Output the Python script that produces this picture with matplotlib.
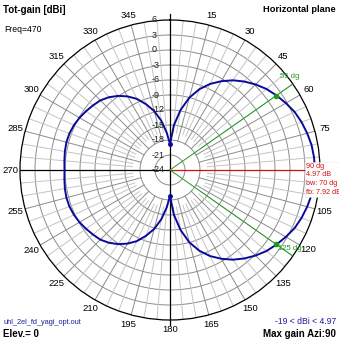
"""Horizontal-plane gain pattern of a 2-element yagi (4nec2 style)."""

import numpy as np
import matplotlib

matplotlib.use("Agg")
from matplotlib import pyplot as plt  # noqa: E402

plt.rcParams["font.family"] = ["Liberation Sans", "DejaVu Sans"]

# pattern: azimuth (deg, clockwise from north) -> gain (dBi)
azimuth_deg = list(range(0, 360, 5))
gain_dbi = [
    -18.8, -15.0, -11.8, -9.0, -6.8, -5.0, -3.5, -2.1, -0.9, 0.2,
    1.2, 2.0, 2.75, 3.5, 4.0, 4.4, 4.75, 4.92, 4.97, 4.92,
    4.75, 4.4, 4.0, 3.5, 2.75, 2.0, 1.2, 0.2, -0.9, -2.1,
    -3.5, -5.0, -6.8, -9.0, -11.8, -15.0, -18.8, -16.5, -14.0, -11.8,
    -10.0, -8.3, -7.0, -5.9, -5.0, -4.3, -3.9, -3.5, -3.1, -2.8,
    -2.6, -2.55, -2.65, -2.8, -2.9, -2.8, -2.65, -2.55, -2.6, -2.8,
    -3.1, -3.5, -3.9, -4.3, -5.0, -5.9, -7.0, -8.3, -10.0, -11.8,
    -14.0, -16.5,
]

ring_levels = [6, 3, 0, -3, -6, -9, -12, -15, -18, -21, -24]
# 90 sits under the max-gain box, 0 is drawn next to the Y marker
angle_labels = [a for a in range(15, 360, 15) if a != 90]

max_gain = 4.97
max_azi = 90
bw_edges = [55, 125]
bw_gain = 1.97
null_azi = [0, 180]
null_gain = -18.8

R_MIN, R_MAX = -24, 6
_PATTERN_COLOR = "#0a0a9a"
_RING_COLOR = "#8c8c8c"
_SPOKE_LIGHT = "#c4c4c4"
_GREEN = "#1a9a1a"
_RED = "#d01010"
_BLUE_TEXT = "#1c1c9c"

W = H = 339
fig = plt.figure(figsize=(W / 100, H / 100), dpi=100, facecolor="white")

cx, cy, rad = 170, 170, 150
ax = fig.add_axes(
    [(cx - rad) / W, (H - cy - rad) / H, 2 * rad / W, 2 * rad / H],
    projection="polar",
)
ax.set_theta_zero_location("N")
ax.set_theta_direction(-1)
ax.set_ylim(R_MIN, R_MAX)
ax.grid(False)
ax.set_xticks([])
ax.set_yticks([])
ax.spines["polar"].set_color("black")
ax.spines["polar"].set_linewidth(0.9)
ax.set_facecolor("white")

theta_full = np.linspace(0, 2 * np.pi, 361)

# rings
for lvl in ring_levels[1:-1]:
    ax.plot(theta_full, [lvl] * len(theta_full), color=_RING_COLOR, lw=0.7, zorder=1)

# spokes
for a in range(0, 360, 5):
    th = np.deg2rad(a)
    if a % 90 == 0:
        continue
    if a % 15 == 0:
        ax.plot([th, th], [-18, R_MAX], color=_RING_COLOR, lw=0.7, zorder=1)
    else:
        ax.plot([th, th], [-16.5, R_MAX], color=_SPOKE_LIGHT, lw=0.7, zorder=1)

# axes cross
ax.plot([0, 0], [R_MIN, 7.3], color="black", lw=0.9, clip_on=False, zorder=3)
ax.plot([np.pi, np.pi], [R_MIN, 7.0], color="black", lw=0.9, clip_on=False, zorder=3)
ax.plot([1.5 * np.pi] * 2, [R_MIN, R_MAX], color="black", lw=0.9, zorder=3)
ax.plot([np.deg2rad(max_azi)] * 2, [R_MIN, max_gain], color=_RED, lw=0.9, zorder=3)

# beamwidth lines
for a in bw_edges:
    ax.plot([np.deg2rad(a)] * 2, [R_MIN, R_MAX], color=_GREEN, lw=0.7, zorder=3)
ax.plot(np.deg2rad(bw_edges), [bw_gain] * 2, "o", color=_GREEN, ms=3, zorder=5)

# pattern
th_pat = np.deg2rad(azimuth_deg + [azimuth_deg[0] + 360])
ax.plot(th_pat, gain_dbi + [gain_dbi[0]], color=_PATTERN_COLOR, lw=1.4, zorder=4)
ax.plot(np.deg2rad(null_azi), [null_gain] * 2, "o", color=_PATTERN_COLOR, ms=2.5, zorder=5)

# ring labels
for lvl in ring_levels:
    ax.annotate(
        str(lvl), (0, lvl), xytext=(-18, 0), textcoords="offset pixels",
        ha="left", va="center", fontsize=6.5, color="#202020", zorder=6,
    )

# angle labels
for a in angle_labels:
    ax.text(np.deg2rad(a), 8.0, str(a), ha="center", va="center", fontsize=6.8)
ax.annotate("0", (0, 8.4), xytext=(-4, 0), textcoords="offset pixels",
            ha="right", va="center", fontsize=6.8)
ax.annotate("Y", (0, 8.4), xytext=(4, 0), textcoords="offset pixels",
            ha="left", va="center", fontsize=7, fontweight="bold")

# beamwidth markers
ax.annotate("55 dg", (np.deg2rad(53), R_MAX), ha="center", va="bottom",
            fontsize=5.5, color=_GREEN)
ax.annotate("125 dg", (np.deg2rad(bw_edges[1]), bw_gain), xytext=(2, -1),
            textcoords="offset pixels", ha="left", va="top", fontsize=5.5, color=_GREEN)

ax.annotate(
    f"{max_azi} dg\n{max_gain} dB\nbw: 70 dg\nfb: 7.92 dB",
    (np.deg2rad(max_azi), 3.2), xytext=(0, 7), textcoords="offset pixels",
    ha="left", va="top", fontsize=5.2, color=_RED, linespacing=1.3,
    bbox=dict(boxstyle="square,pad=0.15", fc="white", ec="#dddddd", lw=0.5, ls=":"),
    zorder=7, annotation_clip=False,
)


def fig_text(x, y, s, **kw):
    fig.text(x / W, 1 - y / H, s, va="center", **kw)


fig_text(3, 10, "Tot-gain [dBi]", fontsize=7, fontweight="bold")
fig_text(336, 10, "Horizontal plane", fontsize=6.7, fontweight="bold", ha="right")
fig_text(4, 29, "Freq=470", fontsize=6.2)
fig_text(3, 322, "uhl_2el_fd_yagi_opt.out", fontsize=5.3, color=_BLUE_TEXT)
fig_text(3, 334, "Elev.= 0", fontsize=7, fontweight="bold")
fig_text(336, 321, f"-19 < dBi < {max_gain}", fontsize=6.2, color=_BLUE_TEXT, ha="right")
fig_text(336, 334, f"Max gain Azi:{max_azi}", fontsize=7, fontweight="bold", ha="right")

fig.savefig("out.png", dpi=100, facecolor="white")
plt.close(fig)
